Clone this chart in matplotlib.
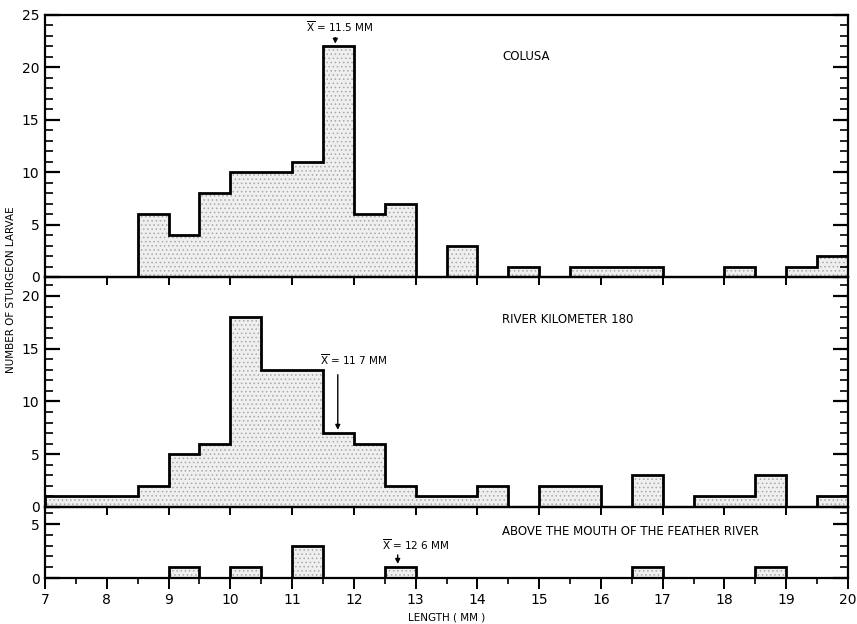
import matplotlib as mpl
mpl.use('Agg')
import matplotlib.pyplot as plt
from matplotlib.ticker import MultipleLocator
import numpy as np

params = {'font.family': ['DejaVu Sans'],
          'font.size': 10,
          'hatch.linewidth': 0.6,
          'hatch.color': '#a8a8a8',
          'mathtext.fontset': 'dejavusans'}
mpl.rcParams.update(params)

# bins of 0.5 mm from 7 to 20 mm
edges = np.arange(7.0, 20.01, 0.5)

colusa = [0, 0, 0, 6, 4, 8, 10, 10, 11, 22, 6, 7, 0, 3, 0, 1, 0, 1, 1, 1, 0, 0, 1, 0, 1, 2]
river_km180 = [1, 1, 1, 2, 5, 6, 18, 13, 13, 7, 6, 2, 1, 1, 2, 0, 2, 2, 0, 3, 0, 1, 1, 3, 0, 1]
feather = [0, 0, 0, 0, 1, 0, 1, 0, 3, 0, 0, 1, 0, 0, 0, 0, 0, 0, 0, 1, 0, 0, 0, 1, 0, 0]

titles = ['COLUSA', 'RIVER KILOMETER 180', 'ABOVE THE MOUTH OF THE FEATHER RIVER']
means = ['11.5', '11 7', '12 6']

fig = plt.figure(figsize=(8.57, 6.24), dpi=100)
left, width = 45 / 857., 803 / 857.
ax1 = fig.add_axes([left, 1 - 277 / 624., width, 262 / 624.])
ax2 = fig.add_axes([left, 1 - 507 / 624., width, 230 / 624.])
ax3 = fig.add_axes([left, 1 - 578 / 624., width, 71 / 624.])

for ax, vals, top in [(ax1, colusa, 25), (ax2, river_km180, 21.8), (ax3, feather, 6.6)]:
    ax.patch.set_visible(False)
    ax.stairs(vals, edges, fill=True, facecolor='#efefef', edgecolor='#a8a8a8',
              hatch='....', lw=0, zorder=1)
    ax.stairs(vals, edges, color='black', lw=2, zorder=2)
    ax.set_xlim(7, 20)
    ax.set_ylim(0, top)
    for s in ax.spines.values():
        s.set_linewidth(1.6)
    ax.yaxis.set_major_locator(MultipleLocator(5))
    ax.yaxis.set_minor_locator(MultipleLocator(1))
    ax.tick_params(axis='y', which='major', direction='in', left=True, right=True,
                   length=11, width=1.6, labelsize=10, pad=4)
    ax.tick_params(axis='y', which='minor', direction='in', left=True, right=True,
                   length=6, width=1.2)
    ax.xaxis.set_major_locator(MultipleLocator(1))

for ax in (ax1, ax2):
    ax.tick_params(axis='x', which='major', direction='out', length=6, width=1.4,
                   labelbottom=False)

ax3.xaxis.set_minor_locator(MultipleLocator(0.5))
ax3.tick_params(axis='x', which='major', direction='out', length=8, width=1.4,
                labelsize=10, pad=3)
ax3.tick_params(axis='x', which='minor', direction='out', length=4, width=1.2)
ax3.set_xticklabels([str(int(v)) for v in ax3.get_xticks()])

# panel titles
ax1.text(14.4, 21.0, titles[0], ha='left', va='center', fontsize=8.5)
ax2.text(14.4, 17.8, titles[1], ha='left', va='center', fontsize=8.5)
ax3.text(14.4, 4.3, titles[2], ha='left', va='center', fontsize=8.5)

# mean markers
xbar = r'$\overline{\mathsf{X}}$'
ax1.text(11.78, 23.9, xbar + ' = ' + means[0] + ' MM', ha='center', va='center', fontsize=7.5)
ax1.annotate('', xy=(11.7, 22.0), xytext=(11.7, 23.1),
             arrowprops=dict(arrowstyle='-|>', color='black', lw=1, mutation_scale=7))
ax2.text(12.0, 14.0, xbar + ' = ' + means[1] + ' MM', ha='center', va='center', fontsize=7.5)
ax2.annotate('', xy=(11.74, 7.05), xytext=(11.74, 12.8),
             arrowprops=dict(arrowstyle='-|>', color='black', lw=1, mutation_scale=7))
ax3.text(13.0, 3.1, xbar + ' = ' + means[2] + ' MM', ha='center', va='center', fontsize=7.5)
ax3.annotate('', xy=(12.71, 1.05), xytext=(12.71, 2.4),
             arrowprops=dict(arrowstyle='-|>', color='black', lw=1, mutation_scale=7))

fig.text(11 / 857., 1 - 290 / 624., 'NUMBER OF STURGEON LARVAE', rotation=90,
         ha='center', va='center', fontsize=7.5)
fig.text(447 / 857., 1 - 618 / 624., 'LENGTH ( MM )', ha='center', va='center', fontsize=7.5)

fig.savefig('out.png', dpi=100)
